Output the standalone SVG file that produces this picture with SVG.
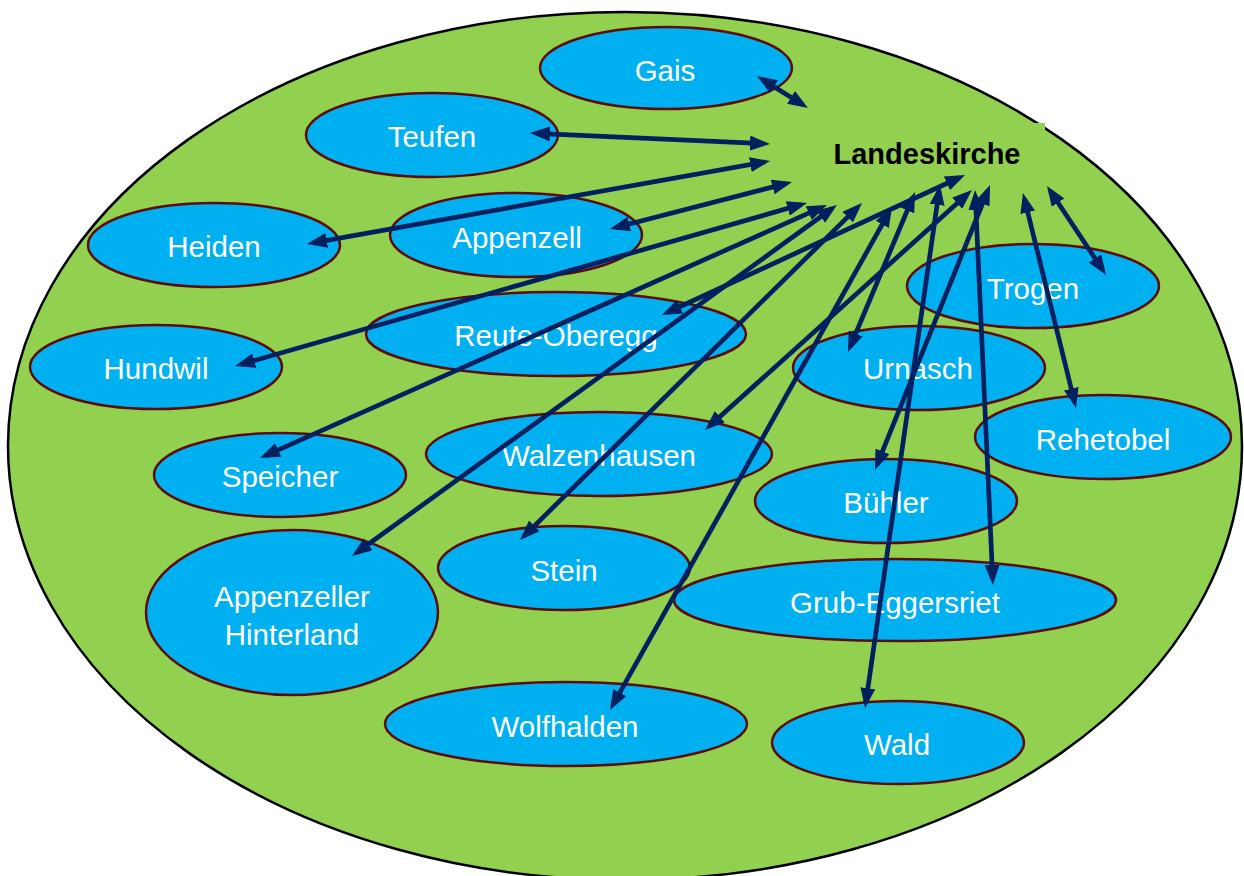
<svg xmlns="http://www.w3.org/2000/svg" width="1244" height="876" viewBox="0 0 1244 876">
<defs>
<marker id="ah" viewBox="0 0 20 15" refX="14" refY="7.5" markerWidth="20" markerHeight="15" markerUnits="userSpaceOnUse" orient="auto-start-reverse">
<path d="M0,0 L20,7.5 L0,15 z" fill="#002060"/>
</marker>
<style>
.node ellipse{fill:#00B0F0;stroke:#5E0B0B;stroke-width:2.5}
.node text{fill:#FFFFFF;font-family:"Liberation Sans",Arial,sans-serif;font-size:29.5px;text-anchor:middle}
.conn line{stroke:#002060;stroke-width:4.7;marker-start:url(#ah);marker-end:url(#ah)}
.hub{fill:#000000;font-family:"Liberation Sans",Arial,sans-serif;font-size:29px;font-weight:bold;text-anchor:middle}
</style>
</defs>
<rect width="1244" height="876" fill="#FFFFFF"/>
<ellipse id="area" cx="625" cy="446" rx="617" ry="434" fill="#92D050" stroke="#000000" stroke-width="2.5"/>
<rect x="820" y="123" width="225" height="60" fill="#92D050"/>
<g id="n-gais" class="node"><ellipse cx="666" cy="68" rx="126" ry="41"/><text x="665" y="81">Gais</text></g>
<g id="n-teufen" class="node"><ellipse cx="432" cy="135" rx="126" ry="42"/><text x="432" y="147">Teufen</text></g>
<g id="n-heiden" class="node"><ellipse cx="214" cy="245" rx="126" ry="42"/><text x="214" y="257">Heiden</text></g>
<g id="n-appenzell" class="node"><ellipse cx="516" cy="235" rx="126" ry="42"/><text x="517" y="248">Appenzell</text></g>
<g id="n-reute" class="node"><ellipse cx="556" cy="334" rx="190" ry="42"/><text x="556" y="346">Reute-Oberegg</text></g>
<g id="n-hundwil" class="node"><ellipse cx="156" cy="367" rx="126" ry="42"/><text x="156" y="379">Hundwil</text></g>
<g id="n-trogen" class="node"><ellipse cx="1033" cy="286" rx="126" ry="42"/><text x="1033" y="299">Trogen</text></g>
<g id="n-urnasch" class="node"><ellipse cx="919" cy="368" rx="126" ry="42"/><text x="918" y="379">Urnasch</text></g>
<g id="n-rehetobel" class="node"><ellipse cx="1103" cy="437" rx="128" ry="42"/><text x="1103" y="450">Rehetobel</text></g>
<g id="n-speicher" class="node"><ellipse cx="280" cy="475" rx="126" ry="42"/><text x="280" y="487">Speicher</text></g>
<g id="n-walzenhausen" class="node"><ellipse cx="599" cy="454" rx="173" ry="42"/><text x="599" y="466">Walzenhausen</text></g>
<g id="n-buehler" class="node"><ellipse cx="886" cy="501" rx="131" ry="42"/><text x="886" y="513">Bühler</text></g>
<g id="n-hinterland" class="node"><ellipse cx="292" cy="612.5" rx="146" ry="82.5"/><text x="292" y="607">Appenzeller</text><text x="292" y="645">Hinterland</text></g>
<g id="n-stein" class="node"><ellipse cx="564" cy="568" rx="126" ry="42"/><text x="564" y="581">Stein</text></g>
<g id="n-grub" class="node"><ellipse cx="895" cy="600" rx="221" ry="41"/><text x="895" y="613">Grub-Eggersriet</text></g>
<g id="n-wolfhalden" class="node"><ellipse cx="566" cy="724" rx="181" ry="42"/><text x="565" y="737">Wolfhalden</text></g>
<g id="n-wald" class="node"><ellipse cx="898" cy="742.5" rx="126" ry="41.5"/><text x="897" y="755">Wald</text></g>
<g id="connectors" class="conn">
<line x1="762.1" y1="79.2" x2="802.9" y2="104.8"/>
<line x1="536" y1="133.3" x2="764" y2="143.7"/>
<line x1="312.9" y1="242.9" x2="764.1" y2="162.1"/>
<line x1="615.8" y1="227.5" x2="786.2" y2="183.5"/>
<line x1="240.8" y1="364.4" x2="801.2" y2="204.6"/>
<line x1="667.4" y1="312.5" x2="959.6" y2="177.5"/>
<line x1="265.5" y1="455.6" x2="821.5" y2="207.4"/>
<line x1="356.9" y1="552.5" x2="832.1" y2="208.5"/>
<line x1="709.5" y1="426" x2="967.5" y2="194"/>
<line x1="524.3" y1="535.8" x2="857.7" y2="207.2"/>
<line x1="612.9" y1="704.8" x2="889.1" y2="212.2"/>
<line x1="850.3" y1="346.5" x2="912.7" y2="197.5"/>
<line x1="865.9" y1="702.1" x2="939.1" y2="190.9"/>
<line x1="877.2" y1="464.4" x2="987.8" y2="190.6"/>
<line x1="992.7" y1="579" x2="975.3" y2="196"/>
<line x1="1074.6" y1="402.2" x2="1024.4" y2="198.8"/>
<line x1="1102.7" y1="270" x2="1050.3" y2="191"/>
</g>
<g id="n-landeskirche"><text class="hub" x="927" y="164">Landeskirche</text></g>
</svg>
